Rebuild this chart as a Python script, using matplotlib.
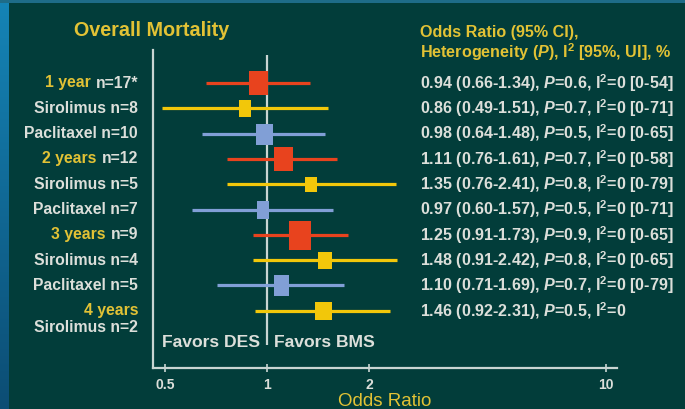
import matplotlib
matplotlib.use("Agg")
import matplotlib.pyplot as plt
import numpy as np
from matplotlib.path import Path
from matplotlib.colors import LinearSegmentedColormap

plt.rcParams['font.family'] = ['Liberation Sans', 'DejaVu Sans']
plt.rcParams['font.weight'] = 'bold'
plt.rcParams['mathtext.fontset'] = 'custom'
plt.rcParams['mathtext.rm'] = 'Liberation Sans:bold'
plt.rcParams['mathtext.it'] = 'Liberation Sans:italic:bold'
plt.rcParams['mathtext.bf'] = 'Liberation Sans:bold'

# ---------------- data ----------------
row_labels = ["1 year", "Sirolimus", "Paclitaxel", "2 years", "Sirolimus",
              "Paclitaxel", "3 years", "Sirolimus", "Paclitaxel", "4 years"]
row_n = ["n=17*", "n=8", "n=10", "n=12", "n=5", "n=7", "n=9", "n=4", "n=5", ""]
row_group = ["overall", "sirolimus", "paclitaxel", "overall", "sirolimus",
             "paclitaxel", "overall", "sirolimus", "paclitaxel", "sirolimus"]
odds_ratio = [0.94, 0.86, 0.98, 1.11, 1.35, 0.97, 1.25, 1.48, 1.10, 1.46]
ci_low = [0.66, 0.49, 0.64, 0.76, 0.76, 0.60, 0.91, 0.91, 0.71, 0.92]
ci_high = [1.34, 1.51, 1.48, 1.61, 2.41, 1.57, 1.73, 2.42, 1.69, 2.31]
p_het = [0.6, 0.7, 0.5, 0.7, 0.8, 0.5, 0.9, 0.8, 0.7, 0.5]
i2_ui = ["0-54", "0-71", "0-65", "0-58", "0-79", "0-71", "0-65", "0-65", "0-79", None]
extra_label = "Sirolimus n=2"
x_ticks = [0.5, 1, 2, 10]
x_tick_labels = ["0.5", "1", "2", "10"]

# ---------------- style ----------------
BG = "#023d3a"
WHITE = "#dcdfda"
YELLOW = "#e2c235"
AXC = "#c9d5d2"
colors = {"overall": "#e8431e", "sirolimus": "#f2c70a", "paclitaxel": "#819fd6"}
yellow_label = [True, False, False, True, False, False, True, False, False, True]
box_w = [19, 12, 17, 19, 12, 12, 22, 14, 15, 17]   # px
box_h = [24, 17, 21, 24, 15, 18, 29, 17, 21, 18]   # px

W, H = 685, 409
fig = plt.figure(figsize=(W / 100, H / 100), dpi=100, facecolor=BG)

# left blue strip + top strip
strip = fig.add_axes([0, 0, 9 / W, 1])
grad = np.linspace(0, 1, 256).reshape(-1, 1)
cm = LinearSegmentedColormap.from_list("s", ["#0c4d74", "#1584b6"])
strip.imshow(grad, aspect="auto", cmap=cm, origin="lower", extent=[0, 1, 0, 1])
strip.axis("off")
top = fig.add_axes([0, 1 - 2.5 / H, 1, 2.5 / H])
top.set_facecolor("#1e6c88")
top.set_xticks([]); top.set_yticks([])
for s in top.spines.values():
    s.set_visible(False)

# main axes
x0, x1 = 153, 617
ytop, ybot = 50, 368
ax = fig.add_axes([x0 / W, 1 - ybot / H, (x1 - x0) / W, (ybot - ytop) / H])
ax.set_facecolor("none")
ax.set_xscale("log")
ax.set_xlim(0.46, 10.8)
row0, rstep = 83, 25.3
ax.set_ylim((ybot - row0) / rstep, (ytop - row0) / rstep)
for s in ["top", "right"]:
    ax.spines[s].set_visible(False)
for s in ["left", "bottom"]:
    ax.spines[s].set_color(AXC)
    ax.spines[s].set_linewidth(1.6)
ax.set_yticks([])
ax.set_xticks(x_ticks)
ax.set_xticklabels(x_tick_labels)
ax.minorticks_off()
ax.tick_params(axis="x", colors=AXC, labelcolor=WHITE, direction="inout",
               length=6, width=1.2, labelsize=10, pad=4)
ax.set_xlabel("Odds Ratio", color=YELLOW, fontsize=13.5, labelpad=1)

# reference line
ax.plot([1, 1], [(55 - row0) / rstep, (345 - row0) / rstep], color=AXC, lw=1.6,
        solid_capstyle="butt", zorder=1)

ys = np.arange(len(odds_ratio))
for i, y in enumerate(ys):
    c = colors[row_group[i]]
    ax.plot([ci_low[i], ci_high[i]], [y, y], color=c, lw=2.3, solid_capstyle="butt", zorder=2)
    w, h = box_w[i], box_h[i]
    m = max(w, h)
    hw, hh = 0.5 * w / m, 0.5 * h / m
    verts = [(-hw, -hh), (hw, -hh), (hw, hh), (-hw, hh), (-hw, -hh)]
    marker = Path(verts, [Path.MOVETO, Path.LINETO, Path.LINETO, Path.LINETO, Path.CLOSEPOLY])
    ax.plot([odds_ratio[i]], [y], marker=marker, markersize=m * 0.72,
            color=c, markeredgewidth=0, zorder=3)

# left labels
LFS = 11.3
lab_x = (138 - x0) / (x1 - x0)
ytr = ax.get_yaxis_transform()
fig.canvas.draw()
for i, y in enumerate(ys):
    if row_n[i]:
        if yellow_label[i]:
            t = ax.text(lab_x, y, row_n[i], transform=ytr, ha="right", va="center",
                        color=WHITE, fontsize=LFS)
            ax.annotate(row_labels[i], xy=(0, 0), xycoords=t, xytext=(-3.5, 0),
                        textcoords="offset points", ha="right", va="bottom",
                        color=YELLOW, fontsize=LFS)
        else:
            ax.text(lab_x, y, row_labels[i] + " " + row_n[i], transform=ytr,
                    ha="right", va="center", color=WHITE, fontsize=LFS)
    else:
        ax.text(lab_x, y, row_labels[i], transform=ytr, ha="right", va="center",
                color=YELLOW if yellow_label[i] else WHITE, fontsize=LFS)
ax.text(lab_x, (328 - row0) / rstep, extra_label, transform=ytr, ha="right",
        va="center", color=WHITE, fontsize=LFS)

# right statistics text
rx = (420 - x0) / (x1 - x0)
for i, y in enumerate(ys):
    s = f"{odds_ratio[i]:.2f} ({ci_low[i]:.2f}-{ci_high[i]:.2f}), $P$={p_het[i]}, I$^2$=0"
    if i2_ui[i]:
        s += f" [{i2_ui[i]}]"
    ax.text(rx, y, s, transform=ytr, ha="left", va="center", color=WHITE,
            fontsize=11.6, clip_on=False)

# headers
fig.text(420 / W, 1 - 32 / H, "Odds Ratio (95% CI),", color=YELLOW, fontsize=11.6,
         ha="left", va="center")
fig.text(420 / W, 1 - 52 / H, "Heterogeneity ($P$), I$^2$ [95%, UI], %", color=YELLOW,
         fontsize=11.6, ha="left", va="center")
fig.text(152 / W, 1 - 30 / H, "Overall Mortality", color=YELLOW, fontsize=14.2,
         ha="center", va="center")

# favors
fy = (343 - row0) / rstep
ax.text(0.955, fy, "Favors DES", color=WHITE, fontsize=12.6, ha="right", va="center")
ax.text(1.05, fy, "Favors BMS", color=WHITE, fontsize=12.6, ha="left", va="center")

fig.savefig("out.png", dpi=100, facecolor=BG)
